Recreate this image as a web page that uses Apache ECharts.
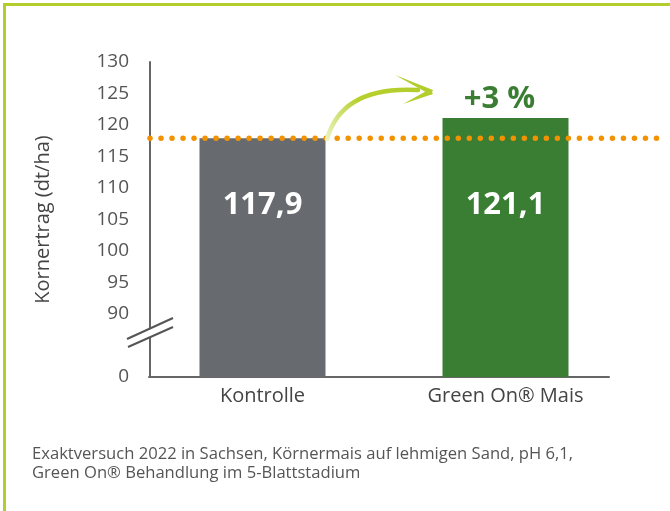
<!DOCTYPE html>
<html>
<head>
<meta charset="utf-8">
<script src="https://cdn.jsdelivr.net/npm/echarts@6/dist/echarts.min.js"></script>
<style>
  html, body { margin: 0; padding: 0; background: #fff; }
  #chart { width: 670px; height: 511px; }
</style>
</head>
<body>
<div id="chart"></div>
<script>
// Werte aus der Grafik
var categories = ['Kontrolle', 'Green On® Mais']
var yields = [117.9, 121.1]
var barColors = ['#676a6e', '#3a7e33']
var increaseLabel = '+3 %'
var yTicksShown = [90, 95, 100, 105, 110, 115, 120, 125, 130]
var footnote = 'Exaktversuch 2022 in Sachsen, Körnermais auf lehmigen Sand, pH 6,1,\nGreen On® Behandlung im 5-Blattstadium'

var font = '"Open Sans", "Noto Sans", sans-serif'
var chart = echarts.init(document.getElementById('chart'))

var option = {
  animation: false,
  title: {
    text: footnote,
    left: 27,
    top: 440,
    textStyle: {
      fontFamily: font,
      fontSize: 16.6,
      fontWeight: 'normal',
      color: '#555',
      lineHeight: 19
    }
  },
  grid: [
    // Balken
    { left: 141, right: 43, top: 62, bottom: 134 },
    // Referenzlinie
    { left: 150, right: 4, top: 62, bottom: 134 },
    // x-Achsenlinie
    { left: 149, right: 61, top: 62, bottom: 134 }
  ],
  xAxis: [
    {
      type: 'category',
      gridIndex: 0,
      data: categories,
      axisLine: { show: false },
      axisTick: { show: false },
      axisLabel: { fontFamily: font, fontSize: 20, color: '#444', margin: 9 }
    },
    { type: 'value', gridIndex: 1, min: 0, max: 1, show: false },
    {
      type: 'value', gridIndex: 2, min: 0, max: 1,
      axisLine: { show: true, lineStyle: { color: '#666', width: 2 } },
      axisTick: { show: false },
      axisLabel: { show: false },
      splitLine: { show: false }
    }
  ],
  yAxis: [
    {
      type: 'value',
      gridIndex: 0,
      min: 80,
      max: 130,
      interval: 5,
      offset: -9,
      name: 'Kornertrag (dt/ha)',
      nameLocation: 'middle',
      nameGap: 97,
      nameTextStyle: { fontFamily: font, fontSize: 20, color: '#444' },
      axisLine: { show: true, lineStyle: { color: '#666', width: 2 } },
      axisTick: { show: false },
      splitLine: { show: false },
      axisLabel: {
        fontFamily: font,
        fontSize: 19,
        color: '#555',
        margin: 21,
        formatter: function (v) {
          if (v === 80) return '0'
          return yTicksShown.indexOf(v) >= 0 ? String(v) : ''
        }
      }
    },
    { type: 'value', gridIndex: 1, min: 80, max: 130, show: false },
    { type: 'value', gridIndex: 2, min: 80, max: 130, show: false }
  ],
  series: [
    {
      type: 'bar',
      xAxisIndex: 0,
      yAxisIndex: 0,
      barWidth: 126,
      data: yields.map(function (v, i) {
        return { value: v, itemStyle: { color: barColors[i] } }
      }),
      label: {
        show: true,
        position: 'insideBottom',
        distance: 156,
        fontFamily: font,
        fontSize: 31,
        fontWeight: 'bold',
        color: '#fff',
        formatter: function (p) { return String(p.value).replace('.', ',') }
      },
      markPoint: {
        symbol: 'rect',
        symbolSize: 0,
        data: [{
          coord: [categories[1], yields[1]],
          label: {
            show: true,
            position: 'top',
            distance: 3,
            offset: [-6, 0],
            formatter: increaseLabel,
            fontFamily: font,
            fontSize: 31,
            fontWeight: 'bold',
            color: '#3a7e33'
          }
        }]
      }
    },
    {
      // Referenzlinie auf Höhe der Kontrolle
      type: 'line',
      xAxisIndex: 1,
      yAxisIndex: 1,
      z: 5,
      symbol: 'none',
      data: [[0, yields[0]], [1, yields[0]]],
      lineStyle: { color: '#f39200', width: 5.5, type: [0.01, 11], cap: 'round' }
    }
  ],
  graphic: [
    // Rahmen
    { type: 'rect', shape: { x: 3, y: 3, width: 670, height: 3 }, style: { fill: '#b3cd2e' } },
    { type: 'rect', shape: { x: 3, y: 3, width: 3, height: 511 }, style: { fill: '#b3cd2e' } },
    // Achsenbruch
    {
      type: 'polygon', z: 10,
      shape: { points: [[128, 339], [173, 319], [173, 327], [128, 347]] },
      style: { fill: '#fff' }
    },
    { type: 'line', z: 11, shape: { x1: 127, y1: 339, x2: 173, y2: 318 }, style: { stroke: '#555', lineWidth: 2 } },
    { type: 'line', z: 11, shape: { x1: 128, y1: 347, x2: 173, y2: 327 }, style: { stroke: '#555', lineWidth: 2 } },
    // Pfeil
    {
      type: 'bezierCurve', z: 6,
      shape: { x1: 327, y1: 139, cpx1: 337, cpy1: 104, cpx2: 366, cpy2: 87, x2: 418, y2: 90 },
      style: {
        fill: null,
        lineWidth: 4.5,
        lineCap: 'round',
        stroke: {
          type: 'linear', x: 0, y: 1, x2: 1, y2: 0,
          colorStops: [{ offset: 0, color: '#eef4c8' }, { offset: 0.45, color: '#b7d02c' }, { offset: 1, color: '#b3cd2e' }]
        }
      }
    },
    { type: 'polygon', z: 6, shape: { points: [[395, 75], [433, 90], [431, 95]] }, style: { fill: '#b3cd2e' } },
    { type: 'polygon', z: 6, shape: { points: [[403, 104], [430, 89], [433, 94]] }, style: { fill: '#b3cd2e' } }
  ]
}

chart.setOption(option)
</script>
</body>
</html>
